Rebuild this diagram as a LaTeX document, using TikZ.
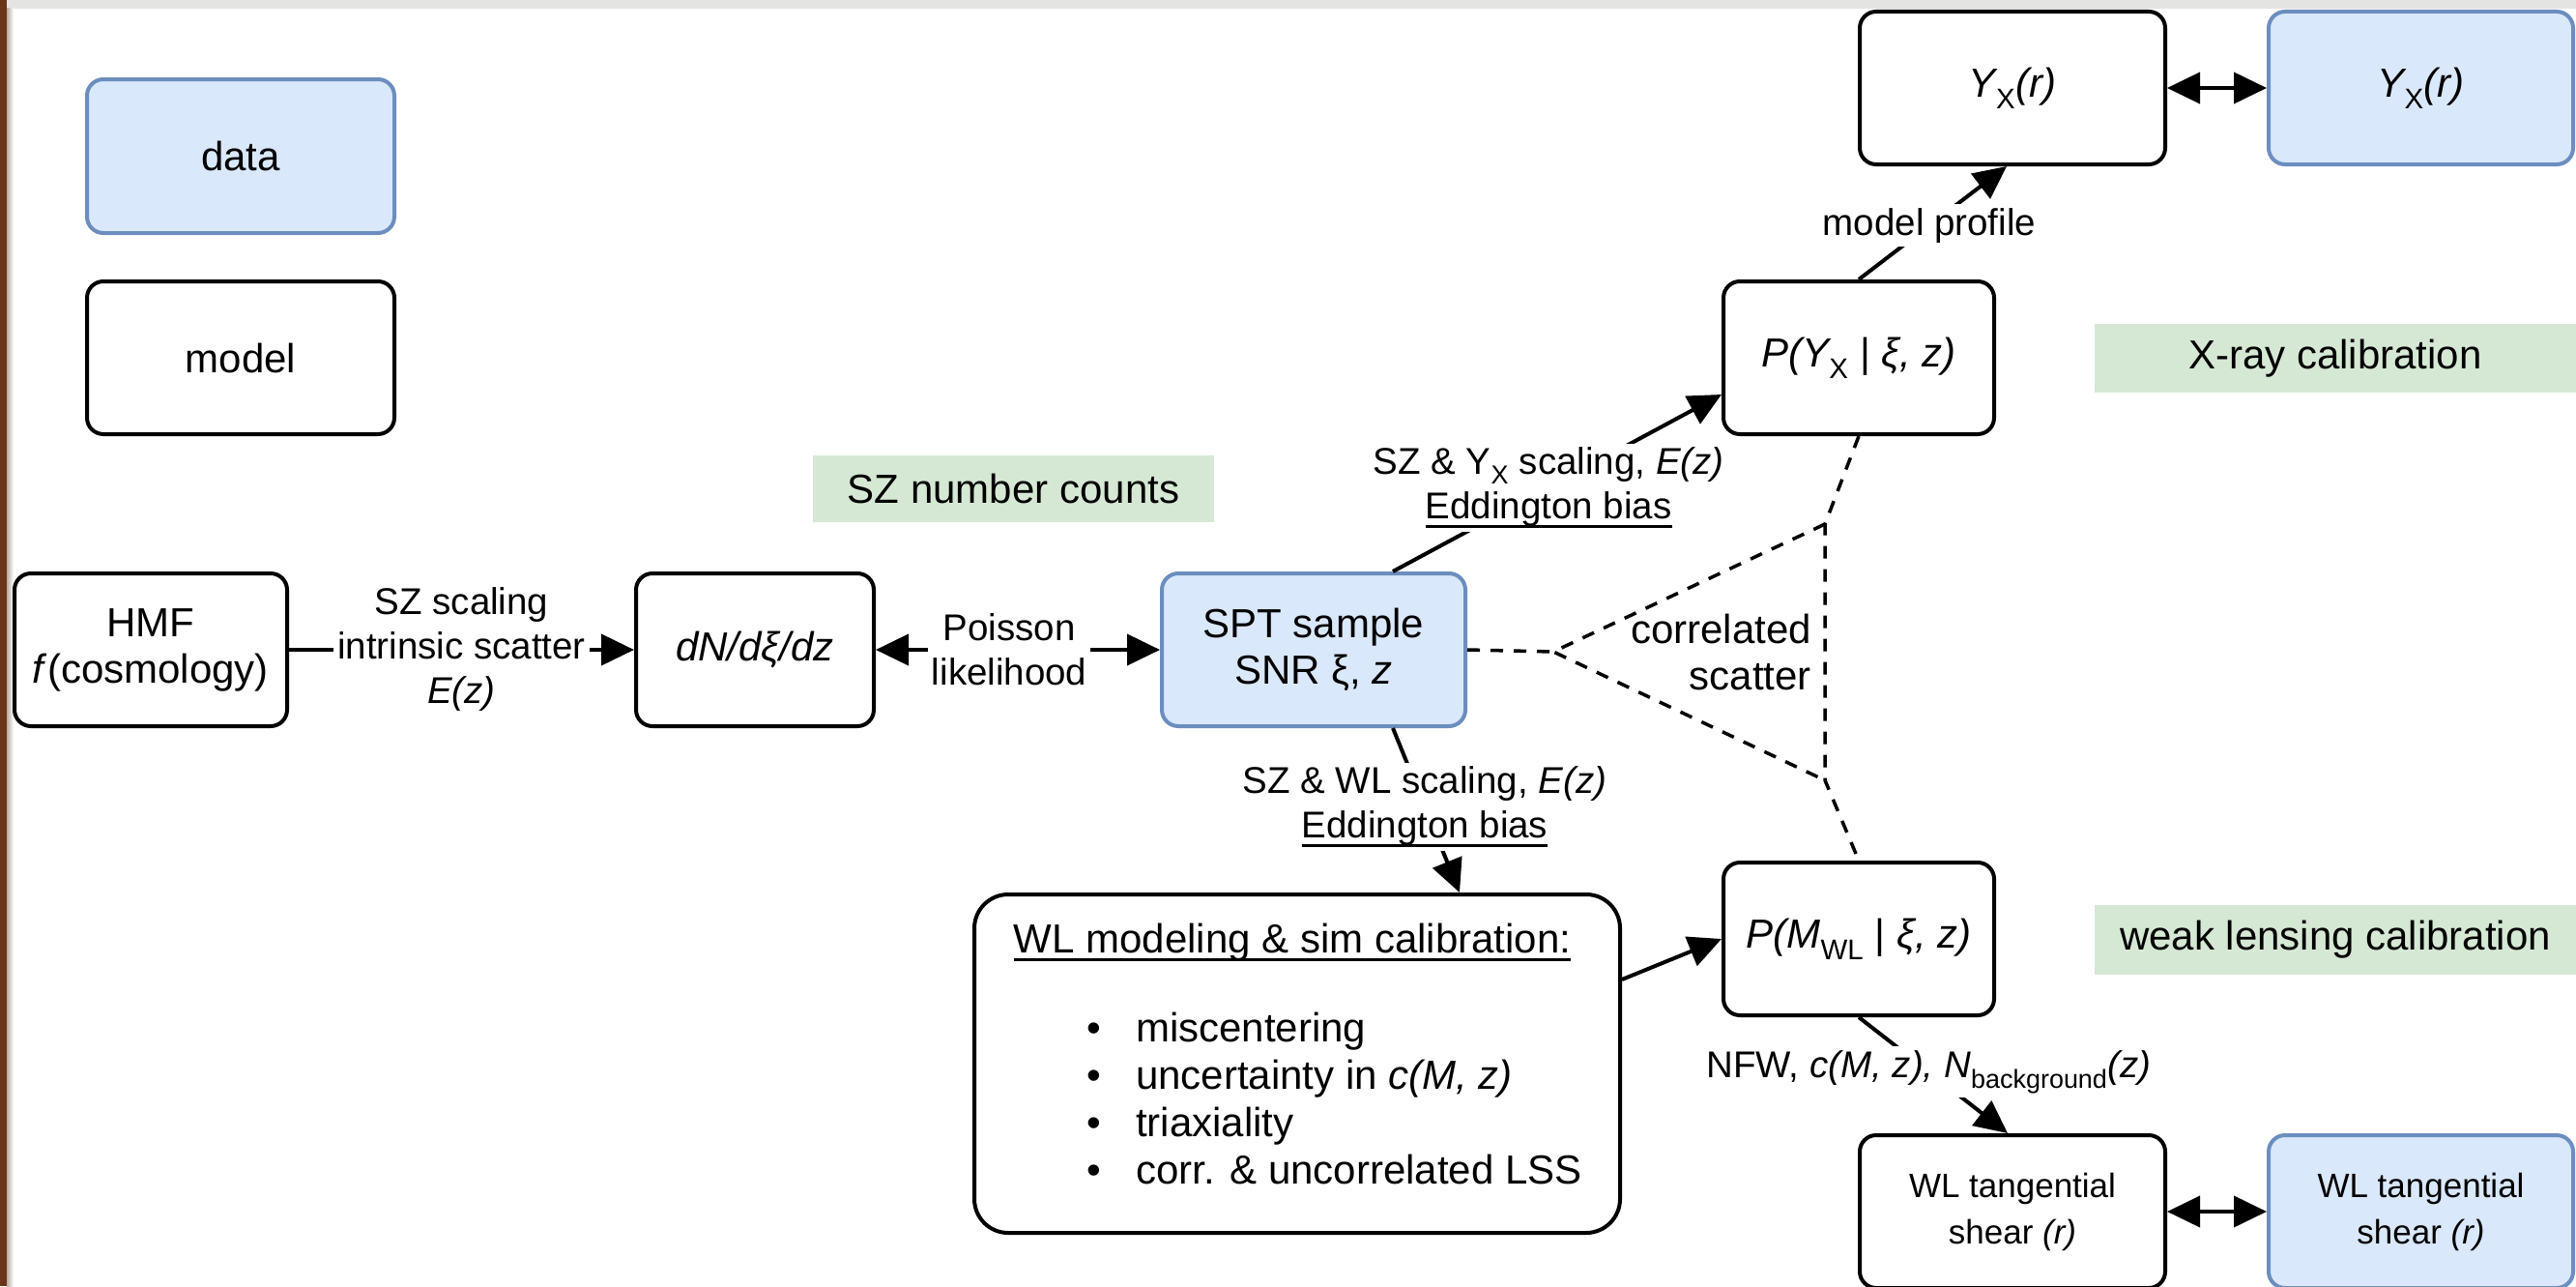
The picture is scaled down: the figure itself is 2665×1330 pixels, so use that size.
\documentclass[tikz,border=0pt]{standalone}
\usepackage{fontspec}
\setmainfont{Liberation Sans}
\usetikzlibrary{arrows.meta,calc}

\definecolor{dfill}{HTML}{DAE8FC}
\definecolor{dline}{HTML}{6C8EBF}
\definecolor{gfill}{HTML}{D5E8D4}
\definecolor{frametop}{HTML}{E4E4E2}
\definecolor{frameleft}{HTML}{6A3519}
\definecolor{frameedge}{HTML}{B8ADA4}

\newcommand{\fsbox}{\fontsize{42}{48}\selectfont}
\newcommand{\fslbl}{\fontsize{38.5}{46}\selectfont}
\newcommand{\fssmall}{\fontsize{35}{48}\selectfont}
\newcommand{\myul}[1]{\setbox0\hbox{#1}\rlap{\rule[-9pt]{\wd0}{3pt}}\box0}

\tikzset{
  modelbox/.style={draw=black, line width=4pt, rounded corners=17pt, fill=white,
    align=center, inner sep=0pt, font=\fsbox, minimum height=158pt},
  databox/.style={modelbox, draw=dline, fill=dfill},
  greenbox/.style={fill=gfill, draw=none, inner sep=0pt, font=\fsbox},
  arr/.style={line width=4pt, -{Triangle[length=34pt,width=32pt]}},
  darr/.style={line width=4pt, {Triangle[length=34pt,width=32pt]}-{Triangle[length=34pt,width=32pt]}},
  lbl/.style={fill=white, inner sep=4pt, align=center, font=\fslbl},
  dashline/.style={line width=3.5pt, dash pattern=on 13pt off 11pt},
  plaintext/.style={inner sep=0pt, font=\fsbox},
}

\begin{document}
\begin{tikzpicture}[x=1pt,y=-1pt]
\useasboundingbox (0,0) rectangle (2665,1330);
\fill[white] (0,0) rectangle (2665,1330);
% screenshot frame
\fill[frametop] (0,0) rectangle (2665,9);
\fill[frameleft] (0,0) rectangle (7,1330);
\shade[left color=frameedge, right color=white] (7,9) rectangle (14,1330);

% legend
\node[databox, minimum width=318pt, minimum height=159pt] (data) at (249,161.5) {data};
\node[modelbox, minimum width=318pt] (model) at (249,370) {model};

% green section labels
\node[greenbox, minimum width=415pt, minimum height=69pt] (sznc) at (1048.5,505.5) {SZ number counts};
\node[greenbox, minimum width=498pt, minimum height=71pt] (xray) at (2416,370.5) {X-ray calibration};
\node[greenbox, minimum width=498pt, minimum height=72pt] (wlcal) at (2416,972) {weak lensing calibration};

% main boxes
\node[modelbox, minimum width=282pt] (hmf) at (156,672) {HMF\\\textit{f}(cosmology)};
\node[modelbox, minimum width=246pt] (dn) at (781,672) {\textit{dN/dξ/dz}};
\node[databox, minimum width=314pt] (spt) at (1359,672) {SPT sample\\SNR ξ, \textit{z}};
\node[modelbox, minimum width=280pt] (pyx) at (1923,370) {\textit{P(Y\textsubscript{\textup{X}} \textup{|} ξ, z)}};
\node[modelbox, minimum width=316pt] (yxm) at (2082,91) {\textit{Y\textsubscript{\textup{X}}(r)}};
\node[databox, minimum width=315pt] (yxd) at (2504.5,91) {\textit{Y\textsubscript{\textup{X}}(r)}};
\node[modelbox, minimum width=280pt] (pmwl) at (1923,971) {\textit{P(M\textsubscript{\textup{WL}} \textup{|} ξ, z)}};
\node[modelbox, minimum width=668pt, minimum height=350pt, rounded corners=35pt] (wl) at (1342,1100) {};
\node[modelbox, minimum width=316pt, font=\fssmall] (wlt) at (2082,1253) {WL tangential\\shear \textit{(r)}};
\node[databox, minimum width=315pt, font=\fssmall] (wltd) at (2504.5,1253) {WL tangential\\shear \textit{(r)}};

% WL modeling box contents
\node[plaintext, anchor=base] (wltitle) at (1337,985) {\myul{WL modeling \& sim calibration:}};
\node[plaintext, anchor=base west] (b1) at (1124,1077) {\makebox[51pt][l]{•}miscentering};
\node[plaintext, anchor=base west] (b2) at (1124,1126) {\makebox[51pt][l]{•}uncertainty in \textit{c(M, z)}};
\node[plaintext, anchor=base west] (b3) at (1124,1175) {\makebox[51pt][l]{•}triaxiality};
\node[plaintext, anchor=base west] (b4) at (1124,1224) {\makebox[51pt][l]{•}corr. \& uncorrelated LSS};

% correlated scatter
\coordinate (cmid) at (1607,674);
\coordinate (ctop) at (1888,542);
\coordinate (cbot) at (1888,807);
\draw[dashline] (spt.east) -- (cmid);
\draw[dashline] (pyx.south) -- (ctop) -- (cbot) -- (pmwl.north);
\draw[dashline] (ctop) -- (cmid) -- (cbot);
\node[plaintext, align=right, anchor=east] (corr) at (1874,674) {correlated\\scatter};

% connectors
\draw[arr] (hmf) -- (dn) node[lbl, pos=0.5] {SZ scaling\\intrinsic scatter\\\textit{E(z)}};
\draw[darr] (dn) -- (spt) node[lbl, pos=0.47] {Poisson\\likelihood};
\draw[arr] ([xshift=82pt]spt.north) -- ([yshift=-38pt]pyx.west)
  node[lbl, pos=0.474] {SZ \& Y\textsubscript{X} scaling, \textit{E(z)}\\\myul{Eddington bias}};
\draw[arr] (pyx.north) -- ([xshift=-6pt]yxm.south) node[lbl, pos=0.477] {model profile};
\draw[darr] (yxm) -- (yxd);
\draw[arr] ([xshift=82pt]spt.south) -- ([xshift=168pt]wl.north)
  node[lbl, pos=0.477] {SZ \& WL scaling, \textit{E(z)}\\\myul{Eddington bias}};
\draw[arr] ([yshift=87pt]wl.east) -- (pmwl.west);
\draw[arr] (pmwl.south) -- ([xshift=-5pt]wlt.north)
  node[lbl, pos=0.47] {NFW, \textit{c(M, z), N\textsubscript{\textup{background}}(z)}};
\draw[darr] (wlt) -- (wltd);
\end{tikzpicture}
\end{document}
